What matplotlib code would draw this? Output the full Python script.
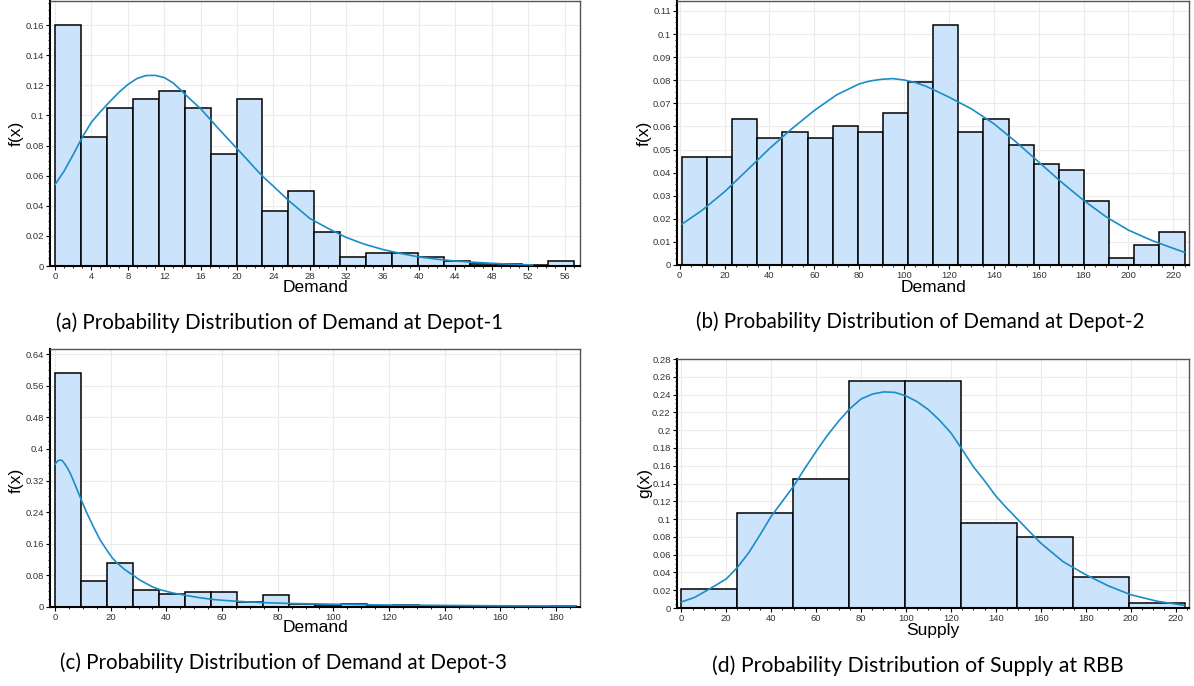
import matplotlib
matplotlib.use("Agg")
import matplotlib.pyplot as plt
from matplotlib.ticker import MultipleLocator, FuncFormatter

# ====== data ======
# (a) Demand at Depot-1
a_edges = [0, 2.85, 5.7, 8.55, 11.4, 14.25, 17.1, 19.95, 22.8, 25.65, 28.5,
           31.35, 34.2, 37.05, 39.9, 42.75, 45.6, 48.45, 51.3, 54.15, 57.0]
a_heights = [0.160, 0.0857, 0.1049, 0.1106, 0.1163, 0.1049, 0.0746, 0.1106, 0.0362, 0.0499,
             0.0223, 0.0058, 0.0084, 0.0084, 0.0058, 0.003, 0.001, 0.001, 0.0005, 0.003]
a_curve_x = [0, 1, 2, 3, 4, 5, 6, 7, 8, 9, 10, 11, 12, 13, 14, 15, 16, 18, 20, 21, 22, 23,
             24, 25.65, 28, 30, 32, 34, 36, 38, 40, 42, 44, 46, 48, 50, 52.5]
a_curve_y = [0.054, 0.063, 0.074, 0.0855, 0.0955, 0.1025, 0.109, 0.1152, 0.1205, 0.1245,
             0.1265, 0.1266, 0.1252, 0.1215, 0.1158, 0.110, 0.1045, 0.091, 0.078, 0.0715,
             0.0648, 0.0585, 0.053, 0.0436, 0.0316, 0.025, 0.019, 0.0145, 0.011, 0.0083,
             0.006, 0.0045, 0.0033, 0.0025, 0.0018, 0.0012, 0.0007]

# (b) Demand at Depot-2
b_edges = [1.0, 12.2, 23.4, 34.6, 45.8, 57.0, 68.2, 79.4, 90.6, 101.8, 113.0,
           124.2, 135.4, 146.6, 157.8, 169.0, 180.2, 191.4, 202.6, 213.8, 225.0]
b_heights = [0.0468, 0.0468, 0.0633, 0.0551, 0.0577, 0.0551, 0.0603, 0.0577, 0.0658, 0.0794,
             0.1040, 0.0577, 0.0633, 0.0521, 0.0439, 0.0413, 0.0278, 0.0032, 0.0086, 0.0141]
b_curve_x = [1, 10, 20, 30, 40, 50, 60, 70, 80, 85, 90, 95, 100, 105, 110, 120, 130, 140,
             150, 160, 170, 180, 190, 200, 210, 220, 225]
b_curve_y = [0.0177, 0.0237, 0.0317, 0.041, 0.0504, 0.059, 0.0669, 0.0737, 0.0784, 0.0797,
             0.0804, 0.0807, 0.0801, 0.0790, 0.0773, 0.0727, 0.0676, 0.0612, 0.0532, 0.0446,
             0.036, 0.028, 0.0209, 0.0151, 0.0108, 0.0072, 0.0055]

# (c) Demand at Depot-3
c_edges = [0, 9.35, 18.7, 28.05, 37.4, 46.75, 56.1, 65.45, 74.8, 84.15, 93.5,
           102.85, 112.2, 121.55, 130.9, 140.25, 149.6, 158.95, 168.3, 177.65, 187.0]
c_heights = [0.593, 0.066, 0.112, 0.042, 0.032, 0.039, 0.039, 0.013, 0.031, 0.0085,
             0.006, 0.0085, 0.0025, 0.006, 0.0025, 0.0025, 0.0025, 0.001, 0.001, 0.0025]
c_curve_x = [0, 0.5, 1, 1.8, 2.5, 3, 4.2, 5.5, 6.6, 8, 9.5, 11.5, 13.8, 16.2, 18.8, 20.5,
             22.2, 25, 28.1, 30.5, 32.9, 35, 37.7, 42, 47.3, 52, 56.9, 61, 66.5, 75, 84.2,
             100, 120, 140, 160, 187]
c_curve_y = [0.361, 0.366, 0.37, 0.372, 0.371, 0.367, 0.355, 0.338, 0.32, 0.296, 0.27,
             0.237, 0.203, 0.17, 0.142, 0.125, 0.112, 0.095, 0.080, 0.068, 0.059, 0.051,
             0.044, 0.036, 0.029, 0.0235, 0.019, 0.0165, 0.014, 0.011, 0.009, 0.007, 0.005,
             0.004, 0.003, 0.0025]

# (d) Supply at RBB
d_edges = [0, 24.9, 49.8, 74.7, 99.6, 124.5, 149.4, 174.3, 199.2, 224.1]
d_heights = [0.0213, 0.1067, 0.145, 0.2547, 0.2547, 0.0955, 0.0794, 0.0348, 0.0056]
d_curve_x = [0, 6, 12, 20, 25, 30, 35, 40, 45, 50, 55, 60, 65, 70, 75, 80, 85, 90, 95, 100,
             105, 110, 115, 120, 124.3, 130, 135, 140, 145, 150, 160, 170, 180, 190, 200,
             212, 224]
d_curve_y = [0.0067, 0.012, 0.0206, 0.0326, 0.0457, 0.062, 0.082, 0.103, 0.120, 0.137,
             0.157, 0.176, 0.194, 0.210, 0.224, 0.235, 0.2405, 0.243, 0.2425, 0.2385, 0.232,
             0.223, 0.211, 0.197, 0.181, 0.159, 0.143, 0.126, 0.112, 0.099, 0.073, 0.052,
             0.0375, 0.025, 0.015, 0.0075, 0.003]

captions = ["(a) Probability Distribution of Demand at Depot-1",
            "(b) Probability Distribution of Demand at Depot-2",
            "(c) Probability Distribution of Demand at Depot-3",
            "(d) Probability Distribution of Supply at RBB"]

# ====== layout (pixels) ======
W, H = 1194, 686
BAR_COLOR = "#cce4fb"
LINE_COLOR = "#1a8cc8"

fig = plt.figure(figsize=(W / 100, H / 100), dpi=100)


def px_rect(l, r, t, b):
    return [l / W, 1 - b / H, (r - l) / W, (b - t) / H]


def fig_text(x, y, s, **kw):
    fig.text(x / W, 1 - y / H, s, ha="center", va="center", **kw)


def draw_panel(rect, edges, heights, cx, cy, xlim, ylim, xstep, ystep, xminor, yminor):
    ax = fig.add_axes(px_rect(*rect))
    widths = [edges[i + 1] - edges[i] for i in range(len(heights))]
    ax.bar(edges[:-1], heights, width=widths, align="edge", color=BAR_COLOR,
           edgecolor="black", linewidth=1.1, zorder=2)
    ax.plot(cx, cy, color=LINE_COLOR, linewidth=1.2, zorder=3)
    ax.set_xlim(*xlim)
    ax.set_ylim(*ylim)
    ax.xaxis.set_major_locator(MultipleLocator(xstep))
    ax.yaxis.set_major_locator(MultipleLocator(ystep))
    ax.xaxis.set_minor_locator(MultipleLocator(xminor))
    ax.yaxis.set_minor_locator(MultipleLocator(yminor))
    ax.yaxis.set_major_formatter(FuncFormatter(lambda v, p: "%g" % round(v, 4)))
    ax.xaxis.set_major_formatter(FuncFormatter(lambda v, p: "%g" % round(v, 4)))
    ax.grid(True, which="major", color="#ebebeb", linewidth=0.8, zorder=0)
    ax.set_axisbelow(True)
    ax.tick_params(which="major", direction="out", length=3, width=0.8, labelsize=6.8,
                   labelcolor="#333333", pad=1.5)
    ax.tick_params(which="minor", direction="out", length=1.5, width=0.6)
    for side in ["left", "bottom"]:
        ax.spines[side].set_linewidth(1.5)
        ax.spines[side].set_color("black")
    for side in ["top", "right"]:
        ax.spines[side].set_linewidth(1.0)
        ax.spines[side].set_color("#555555")
    for lab in ax.get_xticklabels() + ax.get_yticklabels():
        lab.set_family("Liberation Sans")
    return ax


draw_panel((50, 580, 1, 266), a_edges, a_heights, a_curve_x, a_curve_y,
           (-0.55, 57.7), (0, 0.176), 4, 0.02, 1, 0.005)
draw_panel((677, 1189, 1, 265), b_edges, b_heights, b_curve_x, b_curve_y,
           (-1.2, 227), (0, 0.1143), 20, 0.01, 5, 0.0025)
draw_panel((50, 580, 349, 607), c_edges, c_heights, c_curve_x, c_curve_y,
           (-1.8, 188.6), (0, 0.653), 20, 0.08, 5, 0.02)
draw_panel((677, 1189, 359, 608), d_edges, d_heights, d_curve_x, d_curve_y,
           (-1.9, 226), (0, 0.28), 20, 0.02, 5, 0.005)

# axis labels
lab_kw = dict(fontsize=12.5, family="Liberation Sans")
fig_text(315, 288, "Demand", **lab_kw)
fig_text(933, 287, "Demand", **lab_kw)
fig_text(315, 628, "Demand", **lab_kw)
fig_text(933, 630, "Supply", **lab_kw)
fig_text(16, 133, "f(x)", rotation=90, **lab_kw)
fig_text(644, 133, "f(x)", rotation=90, **lab_kw)
fig_text(16, 480, "f(x)", rotation=90, **lab_kw)
fig_text(645, 483, "g(x)", rotation=90, **lab_kw)

# captions
fig_text(280, 323, captions[0], fontsize=14.8, family="Lato")
fig_text(920, 322, captions[1], fontsize=14.8, family="Lato")
fig_text(283, 663, captions[2], fontsize=14.8, family="Lato")
fig_text(918, 666, captions[3], fontsize=15.3, family="Lato")

fig.savefig("out.png", dpi=100)
